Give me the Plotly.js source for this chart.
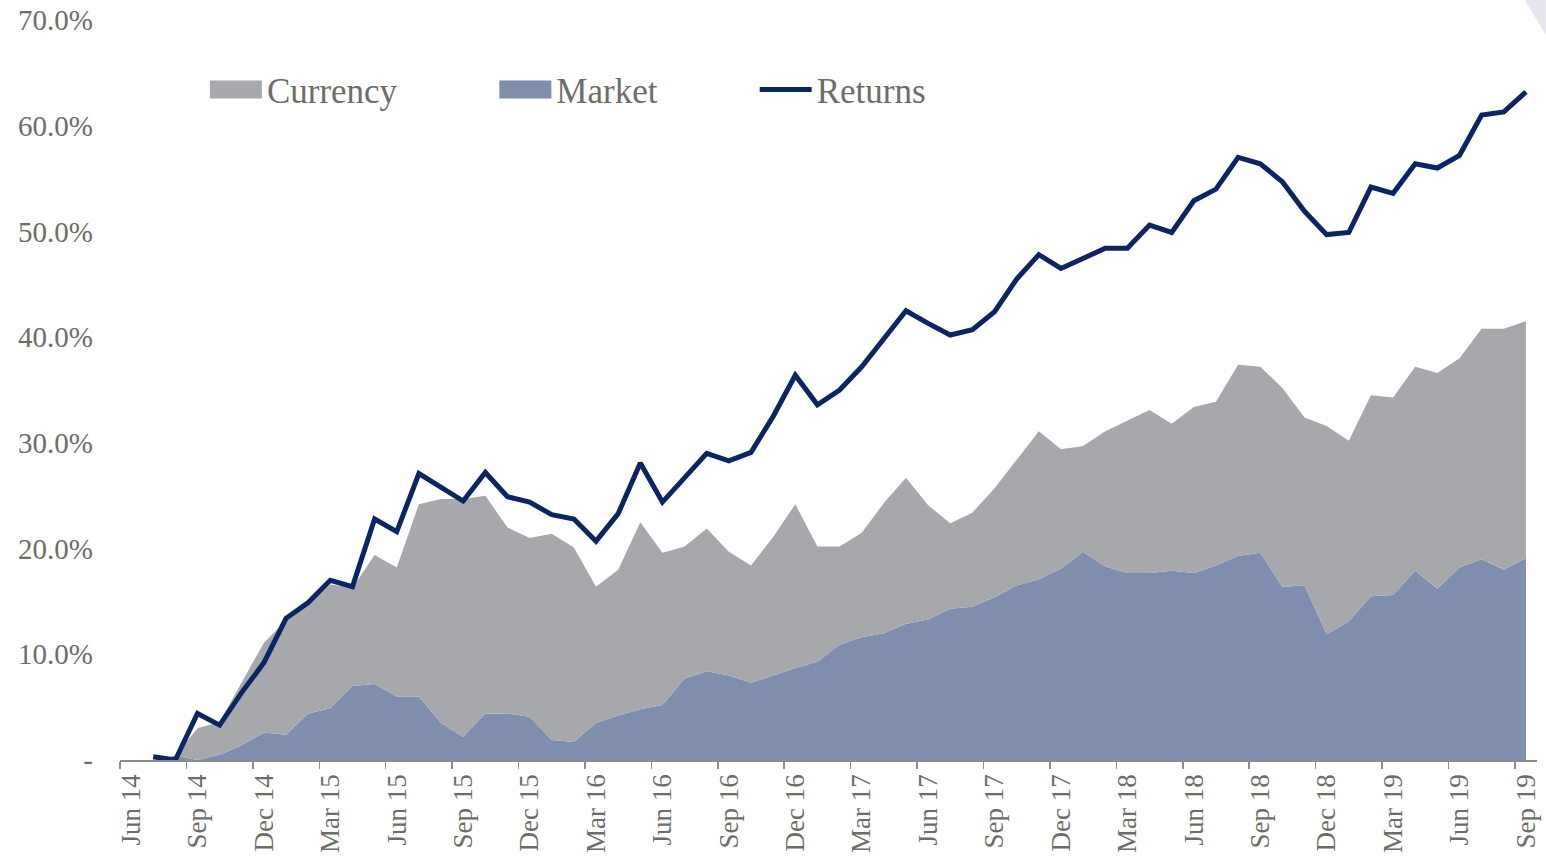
<!DOCTYPE html>
<html>
<head>
<meta charset="utf-8">
<script src="https://cdn.plot.ly/plotly-3.0.1.min.js"></script>
<style>
  html, body { margin: 0; padding: 0; background: #fff; }
  #chart { width: 1546px; height: 859px; }
</style>
</head>
<body>
<div id="chart"></div>
<script>
// monthly categories, Jun 14 .. Sep 19
var months = [
  "Jun 14", "Jul 14", "Aug 14", "Sep 14", "Oct 14", "Nov 14", "Dec 14",
  "Jan 15", "Feb 15", "Mar 15", "Apr 15", "May 15", "Jun 15", "Jul 15", "Aug 15", "Sep 15", "Oct 15", "Nov 15", "Dec 15",
  "Jan 16", "Feb 16", "Mar 16", "Apr 16", "May 16", "Jun 16", "Jul 16", "Aug 16", "Sep 16", "Oct 16", "Nov 16", "Dec 16",
  "Jan 17", "Feb 17", "Mar 17", "Apr 17", "May 17", "Jun 17", "Jul 17", "Aug 17", "Sep 17", "Oct 17", "Nov 17", "Dec 17",
  "Jan 18", "Feb 18", "Mar 18", "Apr 18", "May 18", "Jun 18", "Jul 18", "Aug 18", "Sep 18", "Oct 18", "Nov 18", "Dec 18",
  "Jan 19", "Feb 19", "Mar 19", "Apr 19", "May 19", "Jun 19", "Jul 19", "Aug 19", "Sep 19"
];

// contributions in % (stacked: market at the bottom, currency on top)
var market = [
  0, 0, 0.4, 0, 0.5, 1.4, 2.6,
  2.4, 4.4, 4.9, 7.0, 7.2, 6.0, 6.0, 3.5, 2.2, 4.4, 4.4, 4.1,
  1.9, 1.7, 3.5, 4.2, 4.8, 5.2, 7.7, 8.4, 8.0, 7.3, 8.0, 8.7,
  9.3, 10.9, 11.6, 12.0, 12.9, 13.3, 14.3, 14.5, 15.4, 16.5, 17.1, 18.1,
  19.7, 18.3, 17.7, 17.7, 17.9, 17.7, 18.4, 19.3, 19.6, 16.4, 16.5, 11.9,
  13.1, 15.5, 15.6, 17.9, 16.2, 18.2, 19.0, 18.0, 19.1
];
var currency = [
  0, 0, 0, 3.0, 3.1, 6.0, 8.5,
  10.8, 10.3, 11.7, 9.3, 12.2, 12.2, 18.2, 21.2, 22.5, 20.6, 17.6, 16.9,
  19.5, 18.4, 12.9, 13.8, 17.7, 14.4, 12.5, 13.5, 11.7, 11.1, 13.1, 15.5,
  10.9, 9.3, 9.9, 12.3, 13.8, 10.8, 8.1, 8.9, 10.3, 11.9, 14.0, 11.3,
  10.0, 12.8, 14.4, 15.4, 13.9, 15.7, 15.5, 18.1, 17.6, 18.8, 15.9, 19.7,
  17.1, 19.0, 18.7, 19.3, 20.4, 19.8, 21.8, 22.8, 22.4
];
var returns = [
  null, 0.3, 0.0, 4.4, 3.3, 6.4, 9.2,
  13.4, 14.9, 17.0, 16.4, 22.8, 21.6, 27.1, 25.8, 24.5, 27.2, 24.9, 24.4,
  23.2, 22.8, 20.7, 23.3, 28.1, 24.4, 26.7, 29.0, 28.3, 29.1, 32.5, 36.4,
  33.6, 35.0, 37.2, 39.9, 42.5, 41.3, 40.2, 40.7, 42.4, 45.5, 47.8, 46.5,
  47.4, 48.4, 48.4, 50.6, 49.9, 52.9, 54.0, 57.0, 56.4, 54.7, 51.9, 49.7,
  49.9, 54.2, 53.6, 56.4, 56.0, 57.2, 61.0, 61.3, 63.2
];

var yTickVals = [0, 10, 20, 30, 40, 50, 60, 70];
var yTickText = ["-", "10.0%", "20.0%", "30.0%", "40.0%", "50.0%", "60.0%", "70.0%"];

var textColor = "#6d6d68";
var fontFamily = "Liberation Serif, Times New Roman, serif";

var traceMarket = {
  x: months, y: market, name: "Market",
  type: "scatter", mode: "lines", stackgroup: "one",
  line: {width: 0, color: "#7f8eae"}, fillcolor: "#7f8eae",
  legend: "legend2", hoverinfo: "skip"
};
var traceCurrency = {
  x: months, y: currency, name: "Currency",
  type: "scatter", mode: "lines", stackgroup: "one",
  line: {width: 0, color: "#a7a8ac"}, fillcolor: "#a7a8ac",
  legend: "legend", hoverinfo: "skip"
};
var traceReturns = {
  x: months, y: returns, name: "Returns",
  type: "scatter", mode: "lines",
  line: {width: 5, color: "#0b2463"},
  legend: "legend3", hoverinfo: "skip"
};

var data = [traceMarket, traceCurrency, traceReturns];

var legendBase = {
  orientation: "h", yanchor: "middle", xanchor: "left",
  font: {family: fontFamily, size: 35, color: textColor},
  itemwidth: 52, bgcolor: "rgba(0,0,0,0)", itemclick: false
};

var layout = {
  width: 1546, height: 859,
  margin: {l: 120, r: 9, t: 20, b: 99},
  paper_bgcolor: "#fff", plot_bgcolor: "#fff",
  font: {family: fontFamily, color: textColor},
  showlegend: true,
  legend: Object.assign({}, legendBase, {x: 0.0599, y: 0.9057}),
  legend2: Object.assign({}, legendBase, {x: 0.2642, y: 0.9057}),
  legend3: Object.assign({}, legendBase, {x: 0.4479, y: 0.9057}),
  xaxis: {
    type: "category",
    range: [-0.5, 63.5],
    tickmode: "linear", tick0: 0, dtick: 3,
    tickson: "boundaries",
    ticks: "outside", ticklen: 7, tickwidth: 1.5, tickcolor: "#8c8c8c",
    showline: true, linecolor: "#8c8c8c", linewidth: 1.5,
    showgrid: false, zeroline: false,
    tickangle: -90, ticklabelstandoff: 2,
    tickfont: {family: fontFamily, size: 27, color: textColor}
  },
  yaxis: {
    range: [0, 70],
    tickmode: "array", tickvals: yTickVals, ticktext: yTickText,
    showgrid: false, zeroline: false, showline: false,
    ticks: "", ticklabelstandoff: 26,
    tickfont: {family: fontFamily, size: 29, color: textColor}
  },
  shapes: [{
    type: "path", xref: "paper", yref: "paper",
    path: "M 0.9915 1.027 L 1.0063 1.027 L 1.0063 0.98 Z",
    fillcolor: "#e6e6ef", line: {width: 0}, layer: "above"
  }]
};

Plotly.newPlot("chart", data, layout, {staticPlot: true, displayModeBar: false}).then(function (gd) {
  // make the area legend swatches solid blocks like the original
  gd.querySelectorAll(".legendfill path").forEach(function (p) {
    p.setAttribute("d", "M5,-9h52v18h-52z");
  });
});
</script>
</body>
</html>
